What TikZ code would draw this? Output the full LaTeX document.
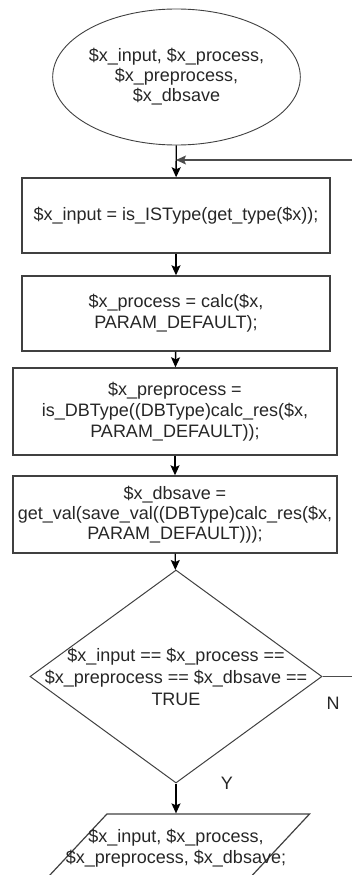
\documentclass[tikz,border=0pt]{standalone}
\usepackage{fontspec}
\setmainfont{Liberation Sans}
\usepackage{tikz}
\usetikzlibrary{calc,positioning,arrows.meta,shapes.geometric}

\tikzset{
  procbox/.style={draw=black!75, line width=1.4pt, rectangle, inner sep=0pt, align=center},
  terminal/.style={draw=black!75, line width=0.9pt, ellipse, inner sep=0pt, align=center},
  decision/.style={draw=black!75, line width=1pt, diamond, inner sep=1pt},
  ioshape/.style={draw=black!75, line width=1.2pt, trapezium, trapezium left angle=65,
    trapezium right angle=115, trapezium stretches=true, inner sep=1pt},
  flow/.style={draw=black, line width=1.4pt, -{Stealth[length=10pt,width=9pt,inset=2pt]}},
  loopline/.style={draw=black!70, line width=1.1pt, -{Stealth[length=10pt,width=9pt,inset=2pt]}},
}

\begin{document}
\begin{tikzpicture}[x=1pt, y=-1pt, font=\fontsize{18}{21}\selectfont, text=black!85]
\clip (0,0) rectangle (352,875);

\node [terminal, minimum width=207, minimum height=136, font=\fontsize{18}{20}\selectfont] (start) at (176.5,77)
  {\$x\_input, \$x\_process,\\ \$x\_preprocess,\\ \$x\_dbsave};
\node [procbox, minimum width=308, minimum height=75] (stepinput) at (176,215.5)
  {\$x\_input = is\_ISType(get\_type(\$x));};
\node [procbox, minimum width=308, minimum height=75] (stepcalc) at (176,313.5)
  {\$x\_process = calc(\$x,\\ PARAM\_DEFAULT);};
\node [procbox, minimum width=324, minimum height=87] (steppre) at (175,411.5)
  {\$x\_preprocess =\\ is\_DBType((DBType)calc\_res(\$x,\\ PARAM\_DEFAULT));};
\node [procbox, minimum width=324, minimum height=77, font=\fontsize{18}{20}\selectfont] (stepsave) at (175,514.5)
  {\$x\_dbsave =\\ get\_val(save\_val((DBType)calc\_res(\$x,\\ PARAM\_DEFAULT)));};
\node [decision, minimum width=292, minimum height=213,
  label={[align=center, font=\fontsize{18}{22}\selectfont]center:\$x\_input == \$x\_process ==\\ \$x\_preprocess == \$x\_dbsave ==\\ TRUE}]
  (check) at (176,676.5) {};
\node [ioshape, minimum width=267, minimum height=69,
  label={[align=center]center:\$x\_input, \$x\_process,\\ \$x\_preprocess, \$x\_dbsave;}]
  (result) at (176,848.5) {};

\coordinate (loopin) at (176,160);
\node (nolabel) at (333,703) {N};
\node (yeslabel) at (227,783) {Y};

% flow
\draw [flow] (start) -- (stepinput);
\draw [flow] (stepinput) -- (stepcalc);
\draw [flow] (stepcalc) -- (steppre);
\draw [flow] (steppre) -- (stepsave);
\draw [flow] (stepsave) -- (check);
\draw [flow] (check.south) -- (check.south |- result.north);
\draw [loopline] (check.east) -- (365,676.5) -- (365,160) -- (loopin);
\end{tikzpicture}
\end{document}
